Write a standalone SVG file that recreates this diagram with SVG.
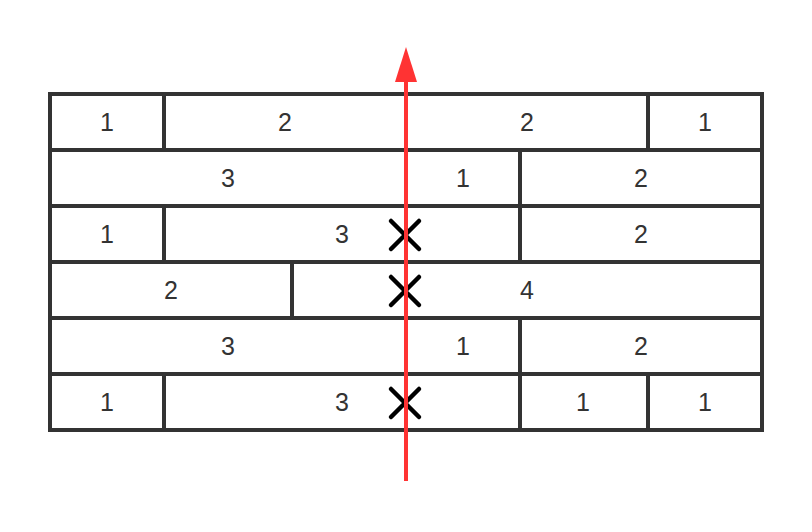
<svg xmlns="http://www.w3.org/2000/svg" width="812" height="532" viewBox="0 0 812 532">
<style>
.cell{fill:#fff;stroke:#333;stroke-width:4}
.lbl{font-family:"Liberation Sans",Arial,sans-serif;font-size:25px;fill:#333;text-anchor:middle}
.x{stroke:#000;stroke-width:4.5;stroke-linecap:round}
</style>
<defs>
<marker id="ah" markerUnits="userSpaceOnUse" markerWidth="36" markerHeight="24" refX="0" refY="12" orient="auto" viewBox="0 0 36 24">
<path d="M0,1 L35,12 L0,23 Z" fill="#ff3333"/>
</marker>
</defs>
<rect width="812" height="532" fill="#fff"/>
<g id="row1">
<rect class="cell" x="50" y="94" width="114" height="56"/><text class="lbl" x="107" y="131">1</text>
<rect class="cell" x="164" y="94" width="242" height="56"/><text class="lbl" x="285" y="131">2</text>
<rect class="cell" x="406" y="94" width="242" height="56"/><text class="lbl" x="527" y="131">2</text>
<rect class="cell" x="648" y="94" width="114" height="56"/><text class="lbl" x="705" y="131">1</text>
</g>
<g id="row2">
<rect class="cell" x="50" y="150" width="356" height="56"/><text class="lbl" x="228" y="187">3</text>
<rect class="cell" x="406" y="150" width="114" height="56"/><text class="lbl" x="463" y="187">1</text>
<rect class="cell" x="520" y="150" width="242" height="56"/><text class="lbl" x="641" y="187">2</text>
</g>
<g id="row3">
<rect class="cell" x="50" y="206" width="114" height="56"/><text class="lbl" x="107" y="243">1</text>
<rect class="cell" x="164" y="206" width="356" height="56"/><text class="lbl" x="342" y="243">3</text>
<rect class="cell" x="520" y="206" width="242" height="56"/><text class="lbl" x="641" y="243">2</text>
</g>
<g id="row4">
<rect class="cell" x="50" y="262" width="242" height="56"/><text class="lbl" x="171" y="299">2</text>
<rect class="cell" x="292" y="262" width="470" height="56"/><text class="lbl" x="527" y="299">4</text>
</g>
<g id="row5">
<rect class="cell" x="50" y="318" width="356" height="56"/><text class="lbl" x="228" y="355">3</text>
<rect class="cell" x="406" y="318" width="114" height="56"/><text class="lbl" x="463" y="355">1</text>
<rect class="cell" x="520" y="318" width="242" height="56"/><text class="lbl" x="641" y="355">2</text>
</g>
<g id="row6">
<rect class="cell" x="50" y="374" width="114" height="56"/><text class="lbl" x="107" y="411">1</text>
<rect class="cell" x="164" y="374" width="356" height="56"/><text class="lbl" x="342" y="411">3</text>
<rect class="cell" x="520" y="374" width="128" height="56"/><text class="lbl" x="583" y="411">1</text>
<rect class="cell" x="648" y="374" width="114" height="56"/><text class="lbl" x="705" y="411">1</text>
</g>
<g id="marks">
<path class="x" d="M391,221 L419,249 M419,221 L391,249"/>
<path class="x" d="M391,277 L419,305 M419,277 L391,305"/>
<path class="x" d="M391,389 L419,417 M419,389 L391,417"/>
</g>
<g id="connectors">
<line x1="406" y1="481" x2="406" y2="82" stroke="#ff3333" stroke-width="4" marker-end="url(#ah)"/>
</g>
</svg>
